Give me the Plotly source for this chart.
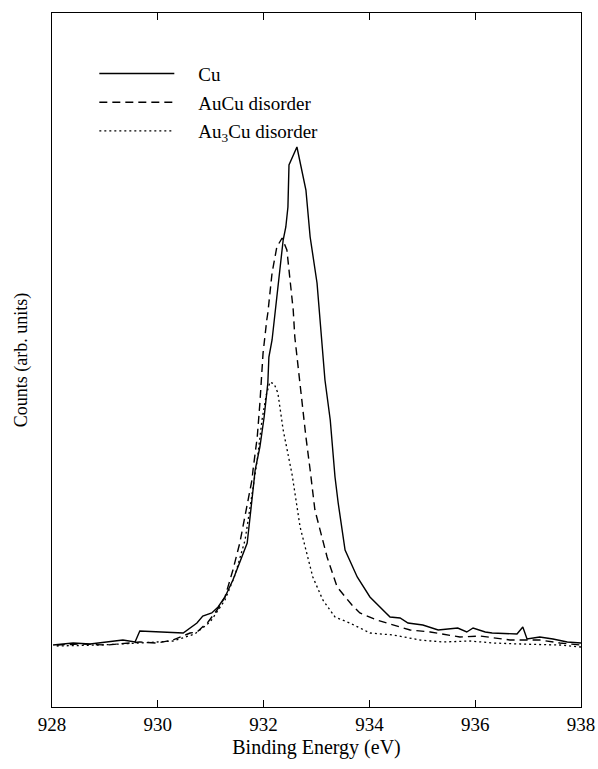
import plotly.graph_objects as go

# Cu (solid)
cu_e = [928.02, 928.40, 928.72, 929.04, 929.34, 929.57, 929.66, 930.48, 930.74, 930.85,
        931.02, 931.14, 931.27, 931.42, 931.69, 931.80, 931.84, 931.93, 932.01, 932.08,
        932.10, 932.16, 932.20, 932.25, 932.31, 932.37, 932.42, 932.46, 932.48, 932.63,
        932.80, 932.88, 933.01, 933.07, 933.12, 933.16, 933.26, 933.35, 933.41, 933.54,
        933.77, 934.01, 934.39, 934.58, 934.73, 935.01, 935.30, 935.67, 935.84, 935.96,
        936.19, 936.32, 936.79, 936.90, 936.98, 937.22, 937.47, 937.74, 938.00]
cu_c = [62, 64, 63, 65, 67, 65, 76, 74, 84, 91,
        94, 100, 110, 127, 164, 217, 237, 260, 290, 324,
        350, 367, 387, 414, 440, 467, 480, 500, 542, 560,
        517, 470, 424, 387, 354, 327, 287, 230, 204, 157,
        130, 110, 90, 89, 84, 82, 77, 79, 75, 79,
        75, 74, 73, 80, 68, 70, 68, 65, 64]

# AuCu disorder (dashed)
aucu_e = [928.09, 928.53, 929.04, 929.38, 929.66, 929.98, 930.29, 930.61, 930.74, 930.95,
          931.12, 931.27, 931.42, 931.55, 931.78, 931.80, 931.88, 931.93, 931.99, 932.06,
          932.08, 932.16, 932.25, 932.35, 932.44, 932.50, 932.56, 932.59, 932.69, 932.80,
          932.88, 932.97, 933.20, 933.39, 933.67, 933.82, 934.14, 934.48, 934.77, 935.15,
          935.71, 936.09, 936.66, 937.22, 937.60, 938.00]
aucu_c = [62, 63, 62, 64, 65, 64, 67, 74, 75, 85,
          97, 110, 137, 164, 227, 237, 270, 304, 354, 387,
          394, 434, 460, 469, 457, 427, 397, 370, 320, 270,
          237, 197, 150, 120, 102, 94, 87, 82, 77, 75,
          70, 71, 67, 67, 64, 62]

# Au3Cu disorder (dotted)
au3cu_e = [928.09, 928.91, 929.66, 930.29, 930.70, 930.99, 931.27, 931.46, 931.65, 931.78,
           931.88, 931.97, 932.05, 932.12, 932.20, 932.27, 932.37, 932.54, 932.69, 932.93,
           933.12, 933.35, 933.63, 934.01, 934.45, 934.96, 935.39, 935.90, 936.34, 936.85,
           937.60, 938.00]
au3cu_c = [61, 62, 64, 66, 73, 85, 107, 132, 167, 212,
           247, 287, 312, 325, 323, 314, 277, 232, 180, 130,
           107, 90, 84, 74, 72, 67, 65, 66, 64, 63,
           62, 60]

x_ticks = [928, 930, 932, 934, 936, 938]
series_names = ["Cu", "AuCu disorder", "Au<sub>3</sub>Cu disorder"]

serif = "Liberation Serif, Times New Roman, serif"
pad = "\u00a0\u00a0\u00a0\u00a0"
fig = go.Figure()
fig.add_trace(go.Scatter(x=cu_e, y=cu_c, mode="lines", name=pad + series_names[0],
                         line=dict(color="black", width=1.4), legendgroup="a"))
fig.add_trace(go.Scatter(x=aucu_e, y=aucu_c, mode="lines", name=pad + series_names[1],
                         line=dict(color="black", width=1.4, dash="8px,5px"), legendgroup="b"))
fig.add_trace(go.Scatter(x=au3cu_e, y=au3cu_c, mode="lines", name=pad + series_names[2],
                         line=dict(color="black", width=1.3, dash="2px,3px"), legendgroup="c"))

fig.update_layout(
    width=598, height=769,
    margin=dict(l=52, r=17, t=13, b=62),
    paper_bgcolor="white", plot_bgcolor="white",
    font=dict(family=serif, color="black", size=18),
    showlegend=True,
    legend=dict(x=0.08, y=0.94, xanchor="left", yanchor="top",
                bgcolor="rgba(0,0,0,0)", itemwidth=75,
                traceorder="grouped", tracegroupgap=1,
                font=dict(family=serif, size=19)),
    xaxis=dict(range=[928, 938], tickvals=x_ticks, ticktext=[str(t) for t in x_ticks],
               ticks="inside", ticklen=7, tickcolor="black", tickwidth=1,
               showline=True, linecolor="black", linewidth=1, mirror="ticks",
               showgrid=False, zeroline=False, automargin=False,
               tickfont=dict(family=serif, size=19),
               title=dict(text="Binding Energy (eV)", font=dict(family=serif, size=20), standoff=6)),
    yaxis=dict(range=[0, 694], showticklabels=False, ticks="",
               showline=True, linecolor="black", linewidth=1, mirror=True,
               showgrid=False, zeroline=False, automargin=False,
               title=dict(text="Counts (arb. units)", font=dict(family=serif, size=18), standoff=18)),
)

fig.write_html("out.html")
